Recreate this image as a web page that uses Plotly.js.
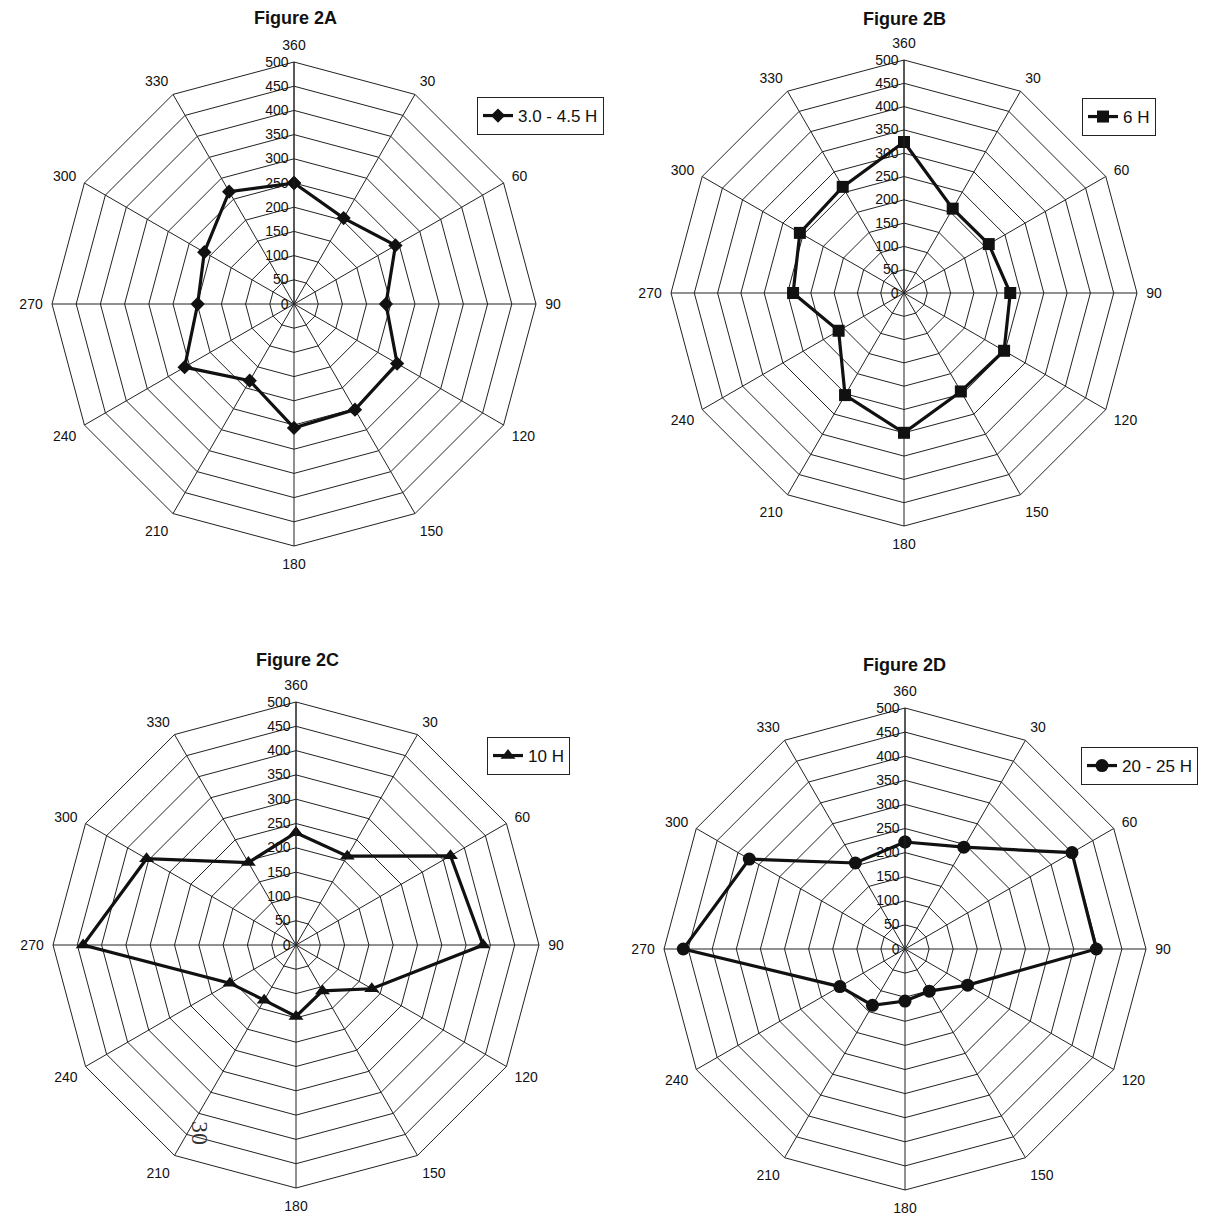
<!DOCTYPE html>
<html>
<head>
<meta charset="utf-8">
<script src="https://cdn.plot.ly/plotly-3.0.1.min.js"></script>
<style>html,body{margin:0;padding:0;background:#fff;}#chart{width:1224px;height:1215px;}</style>
</head>
<body>
<div id="chart"></div>
<script>
const angles = ['360','30','60','90','120','150','180','210','240','270','300','330'];
const radialTicks = [0,50,100,150,200,250,300,350,400,450,500];
const seriesA = [250,205,242,190,246,252,256,183,261,199,214,268];
const seriesB = [324,209,210,228,248,244,300,253,162,238,258,263];
const seriesC = [231,211,367,385,180,109,147,131,157,438,355,196];
const seriesD = [222,244,400,397,150,101,108,135,156,460,373,206];
const namesAll = ['3.0 - 4.5 H','6 H','10 H','20 - 25 H'];
const titlesAll = ['Figure 2A','Figure 2B','Figure 2C','Figure 2D'];
const pageNumber = '30';

const W = 1224, H = 1215;
const FONT = 'Liberation Sans, Arial, sans-serif';
const geo = [
  {cx:294, cy:304, r:242},
  {cx:904, cy:293, r:233},
  {cx:296, cy:945, r:243},
  {cx:905, cy:949, r:241}
];
const symbols = ['diamond','square','triangle-up','circle'];
const msize = [11,12,13,13];
const data = [seriesA, seriesB, seriesC, seriesD];
const polarKeys = ['polar','polar2','polar3','polar4'];
const legendKeys = ['legend','legend2','legend3','legend4'];
const legendPos = [
  {x:477, y:97},
  {x:1082, y:98},
  {x:487, y:737},
  {x:1081, y:747}
];
const titlePos = [
  {x:295, y:18},
  {x:904, y:19},
  {x:297, y:660},
  {x:904, y:665}
];

const traces = data.map((vals, i) => ({
  type: 'scatterpolar',
  r: vals.concat([vals[0]]),
  theta: angles.concat([angles[0]]),
  mode: 'lines+markers',
  name: namesAll[i],
  subplot: polarKeys[i],
  legend: legendKeys[i],
  line: {color: '#111', width: 3.2},
  marker: {symbol: symbols[i], size: msize[i], color: '#111'},
  showlegend: true
}));

const annotations = titlesAll.map((t, i) => ({
  text: '<b>' + t + '</b>', xref: 'paper', yref: 'paper',
  x: titlePos[i].x / W, y: 1 - titlePos[i].y / H,
  xanchor: 'center', yanchor: 'middle', showarrow: false,
  font: {family: FONT, size: 18, color: '#111'}
}));
annotations.push({
  text: pageNumber, xref: 'paper', yref: 'paper',
  x: 200 / W, y: 1 - 1133 / H, xanchor: 'center', yanchor: 'middle',
  showarrow: false, textangle: 90,
  font: {family: 'Liberation Serif, serif', size: 24, color: '#333'}
});

const layout = {
  width: W, height: H,
  margin: {l:0, r:0, t:0, b:0},
  paper_bgcolor: '#fff',
  font: {family: FONT, color: '#111', size: 14},
  annotations: annotations
};

geo.forEach((g, i) => {
  layout[polarKeys[i]] = {
    domain: {
      x: [(g.cx - g.r) / W, (g.cx + g.r) / W],
      y: [1 - (g.cy + g.r) / H, 1 - (g.cy - g.r) / H]
    },
    gridshape: 'linear',
    bgcolor: '#fff',
    angularaxis: {
      type: 'category',
      categoryarray: angles,
      rotation: 90,
      direction: 'clockwise',
      showgrid: true,
      gridcolor: '#222',
      gridwidth: 1,
      showline: true,
      linecolor: '#222',
      linewidth: 1,
      ticks: 'outside',
      ticklen: 6,
      tickcolor: 'rgba(255,255,255,0)',
      tickfont: {family: FONT, size: 14, color: '#111'}
    },
    radialaxis: {
      range: [0, 500],
      tickvals: radialTicks,
      ticktext: radialTicks.map(String),
      angle: 90,
      tickangle: 90,
      side: 'counterclockwise',
      showgrid: true,
      gridcolor: '#222',
      gridwidth: 1,
      showline: true,
      linecolor: '#222',
      linewidth: 1,
      ticks: '',
      tickfont: {family: FONT, size: 14, color: '#111'}
    }
  };
  layout[legendKeys[i]] = {
    x: legendPos[i].x / W, y: 1 - legendPos[i].y / H,
    xanchor: 'left', yanchor: 'top',
    bgcolor: '#fff',
    bordercolor: '#222', borderwidth: 1,
    font: {family: FONT, size: 17, color: '#111'},
    itemwidth: 30
  };
});

Plotly.newPlot('chart', traces, layout, {displayModeBar: false, staticPlot: true});
</script>
</body>
</html>
